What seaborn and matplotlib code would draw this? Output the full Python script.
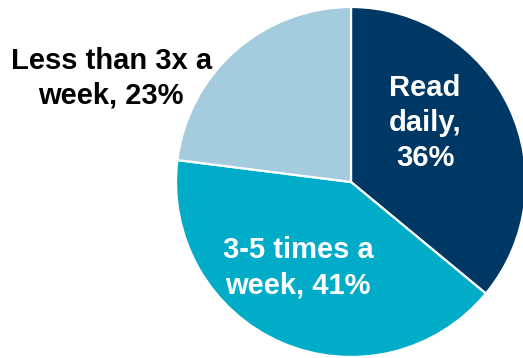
"""
Reading frequency pie chart
"""
import matplotlib
matplotlib.use("Agg")
import matplotlib.pyplot as plt
import seaborn as sns

categories = ["Read daily", "3-5 times a week", "Less than 3x a week"]
shares = [36, 41, 23]
label_text = ["Read\ndaily,\n36%", "3-5 times a\nweek, 41%", "Less than 3x a\nweek, 23%"]
label_colors = ["white", "white", "black"]

sns.set_theme(style="white")
plt.rcParams['font.family'] = ['Liberation Sans', 'DejaVu Sans']
palette = sns.color_palette(["#003865", "#00ACC8", "#A4CCDE"])

fig = plt.figure(figsize=(5.23, 3.58), dpi=100)
ax = fig.add_axes([0, 0, 1, 1])

R = 175.0  # radius in px
wedges, _ = ax.pie(
    shares, colors=palette, startangle=90, counterclock=False,
    radius=1.0, wedgeprops={"edgecolor": "white", "linewidth": 1.6},
)

# pie center at (351, 182) px from top-left
ax.set_xlim(-351 / R, (523 - 351) / R)
ax.set_ylim(-(358 - 182) / R, 182 / R)
ax.set_aspect("auto")
ax.axis("off")

label_pos = [(0.423, 0.337), (-0.303, -0.491), (-1.371, 0.594)]
for txt, col, (x, y) in zip(label_text, label_colors, label_pos):
    ax.text(x, y, txt, ha="center", va="center", color=col,
            fontsize=21, fontweight="bold", linespacing=1.32)

fig.savefig("out.png", dpi=100)
